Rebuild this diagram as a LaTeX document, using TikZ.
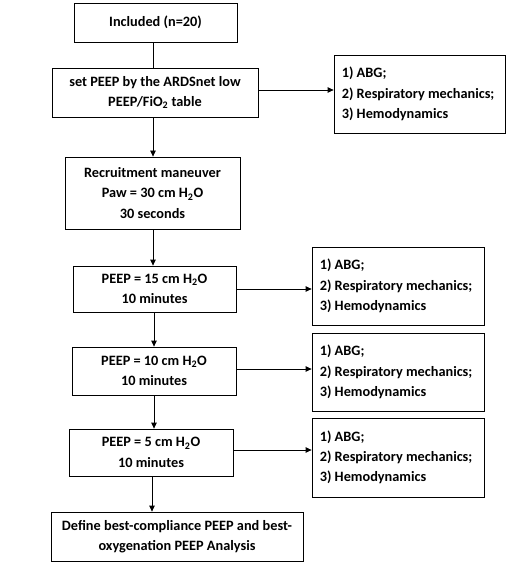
\documentclass[tikz,border=0pt]{standalone}
\usepackage{fontspec}
\setmainfont{Carlito}
\usetikzlibrary{arrows.meta}
\tikzset{
  txt/.style={font=\fontsize{14.3bp}{20.3bp}\selectfont\bfseries},
  mainbox/.style={draw, line width=0.8bp, txt, align=center, inner sep=0pt},
  sidebox/.style={draw, line width=0.8bp, inner sep=0pt, minimum width=172bp, minimum height=78bp},
  sidetext/.style={txt, align=left, inner sep=0pt, anchor=west},
  conn/.style={line width=0.8bp},
  arr/.style={line width=0.8bp, -{Triangle[length=6bp,width=5.5bp]}}
}
\begin{document}
\begin{tikzpicture}[x=1bp,y=-1bp]
\useasboundingbox (0,0) rectangle (510,565);
\node[mainbox, minimum width=163bp, minimum height=39bp] (b1) at (155.5,22.5) {Included (n=20)};
\node[mainbox, minimum width=206bp, minimum height=49bp] (b2) at (155,92.5) {set PEEP by the ARDSnet low\\PEEP/FiO\textsubscript{2} table};
\node[mainbox, minimum width=175bp, minimum height=72bp] (b3) at (152.5,193) {Recruitment maneuver\\Paw = 30 cm H\textsubscript{2}O\\30 seconds};
\node[mainbox, minimum width=163bp, minimum height=46bp] (b4) at (154.5,289) {PEEP = 15 cm H\textsubscript{2}O\\10 minutes};
\node[mainbox, minimum width=164bp, minimum height=48bp] (b5) at (154,371) {PEEP = 10 cm H\textsubscript{2}O\\10 minutes};
\node[mainbox, minimum width=164bp, minimum height=47bp] (b6) at (151,452.5) {PEEP = 5 cm H\textsubscript{2}O\\10 minutes};
\node[mainbox, minimum width=252bp, minimum height=49bp] (b7) at (177,536.5) {Define best-compliance PEEP and best-\\oxygenation PEEP Analysis};

\node[sidebox, minimum width=171bp] (s1) at (419.5,94) {};
\node[sidebox] (s2) at (398,286) {};
\node[sidebox] (s3) at (398,372) {};
\node[sidebox, minimum height=79bp] (s4) at (398,457.5) {};
\node[sidetext] (t1) at ([xshift=8bp]s1.west) {1) ABG;\\2) Respiratory mechanics;\\3) Hemodynamics};
\node[sidetext] (t2) at ([xshift=8bp]s2.west) {1) ABG;\\2) Respiratory mechanics;\\3) Hemodynamics};
\node[sidetext] (t3) at ([xshift=8bp]s3.west) {1) ABG;\\2) Respiratory mechanics;\\3) Hemodynamics};
\node[sidetext] (t4) at ([xshift=8bp]s4.west) {1) ABG;\\2) Respiratory mechanics;\\3) Hemodynamics};

\coordinate (xa) at (153,0);
\coordinate (xb) at (154,0);
\coordinate (xc) at (152,0);
\draw[conn] (b1.south -| xa) -- (b2.north -| xa);
\draw[arr] (b2.south -| xa) -- (b3.north -| xa);
\draw[arr] (b3.south -| xa) -- (b4.north -| xa);
\draw[arr] (b4.south -| xb) -- (b5.north -| xb);
\draw[arr] (b5.south -| xb) -- (b6.north -| xb);
\draw[arr] (b6.south -| xc) -- (b7.north -| xc);

\draw[arr] ([yshift=2.5bp]b2.east) -- ([yshift=2.5bp]b2.east -| s1.west);
\draw[arr] (b4.east) -- (b4.east -| s2.west);
\draw[arr] ([yshift=2bp]b5.east) -- ([yshift=2bp]b5.east -| s3.west);
\draw[arr] ([yshift=2.5bp]b6.east) -- ([yshift=2.5bp]b6.east -| s4.west);
\end{tikzpicture}
\end{document}
